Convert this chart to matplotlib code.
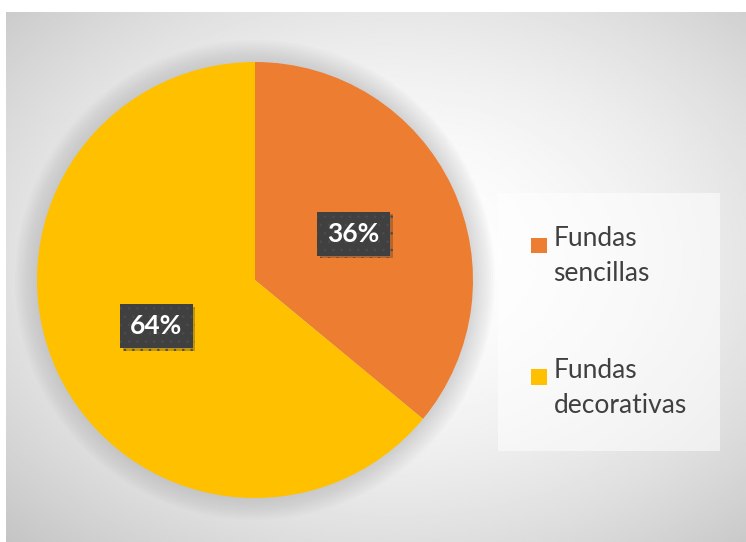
import numpy as np
import matplotlib
matplotlib.use("Agg")
import matplotlib.pyplot as plt
import matplotlib.patheffects as pe
from matplotlib.patches import Patch, Circle, Rectangle
from matplotlib.legend_handler import HandlerBase

# data
categories = ["Fundas\nsencillas", "Fundas\ndecorativas"]
shares = [36, 64]
colors = ["#ED7D31", "#FFC000"]

# layout (pixels, origin bottom-left)
W, H = 746, 542
PIE_CENTER = (255, 262)
PIE_RADIUS = 218
LEGEND_FONT = 19


class TopSquareHandler(HandlerBase):
    """Square legend key aligned with the first line of a two-line label."""

    def create_artists(self, legend, orig_handle, xdescent, ydescent,
                       width, height, fontsize, trans):
        size = 0.6 * fontsize
        rect = Rectangle((-xdescent, -ydescent + height - size * 1.2), size, size,
                         facecolor=orig_handle.get_facecolor(), edgecolor="none",
                         transform=trans)
        return [rect]


plt.rcParams["font.family"] = ["Lato", "DejaVu Sans"]
plt.rcParams["hatch.linewidth"] = 0.6

fig = plt.figure(figsize=(W / 100, H / 100), dpi=100)
ax = fig.add_axes([0, 0, 1, 1])

# radial grey background of the chart area
x0, x1, y0, y1 = 6, W, 0, H - 12
xx, yy = np.meshgrid(np.linspace(x0, x1, 400), np.linspace(y0, y1, 300))
cx, cy = (x0 + x1) / 2 + 20, (y0 + y1) / 2 + 20
r = np.hypot((xx - cx) / (x1 - x0), (yy - cy) / (y1 - y0))
r = r / r.max()
shade = 1 - 0.23 * r ** 1.8
ax.imshow(shade, cmap="gray", vmin=0, vmax=1, extent=[x0, x1, y0, y1],
          origin="lower", interpolation="bilinear", zorder=0)

# soft glow around the pie
for k in range(1, 12):
    ax.add_patch(Circle(PIE_CENTER, PIE_RADIUS + 2 * k, color="#9a9a9a",
                        alpha=0.035, lw=0, zorder=1))

wedges, texts, autotexts = ax.pie(
    shares, colors=colors, startangle=90, counterclock=False,
    center=PIE_CENTER, radius=PIE_RADIUS, frame=True,
    autopct="%1.0f%%", pctdistance=0.5,
    wedgeprops=dict(linewidth=0, zorder=2),
    textprops=dict(color="white", fontsize=19, fontweight="bold"))

for t in autotexts:
    t.set_zorder(5)
    t.set_bbox(dict(boxstyle="square,pad=0.38", facecolor="#404040",
                    edgecolor="#4c4c4c", linewidth=0, hatch=".."))
    t.get_bbox_patch().set_path_effects(
        [pe.SimplePatchShadow(offset=(2, -2), shadow_rgbFace="#333333", alpha=0.3),
         pe.Normal()])

handles = [Patch(facecolor=c, edgecolor="none") for c in colors]
leg = ax.legend(handles, categories, loc="center left",
                bbox_to_anchor=(498 / W, 220 / H), frameon=True,
                fontsize=LEGEND_FONT, labelcolor="#404040", labelspacing=2.7,
                handlelength=0.6, handleheight=2.4, handletextpad=0.25,
                borderpad=1.25, borderaxespad=0, fancybox=False,
                handler_map={Patch: TopSquareHandler()})
for t in leg.get_texts():
    t.set_linespacing(1.5)
leg.get_frame().set_facecolor("white")
leg.get_frame().set_alpha(0.55)
leg.get_frame().set_linewidth(0)

ax.set_xlim(0, W)
ax.set_ylim(0, H)
ax.set_aspect("auto")
ax.axis("off")

plt.savefig("out.png", dpi=100)
